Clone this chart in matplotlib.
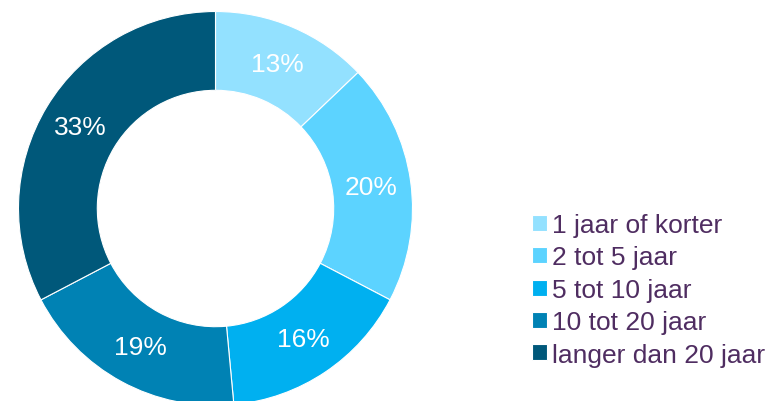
import matplotlib.pyplot as plt

# Duration categories and their shares (%)
categories = ["1 jaar of korter", "2 tot 5 jaar", "5 tot 10 jaar",
              "10 tot 20 jaar", "langer dan 20 jaar"]
shares = [13, 20, 16, 19, 33]
colors = ["#93E1FF", "#5CD3FF", "#00B0F0", "#0082B4", "#00587A"]
text_purple = "#4F2D61"

plt.rcParams['font.family'] = ['Liberation Sans', 'DejaVu Sans']

W, H = 772, 402
fig = plt.figure(figsize=(W / 100, H / 100), dpi=100)

# donut axes: centre ~ (215.5, 209) px, outer radius ~197 px
r_px = 197
cx, cy = 215.5, 209.5
ax = fig.add_axes([(cx - r_px) / W, (H - cy - r_px) / H, 2 * r_px / W, 2 * r_px / H])

wedges, texts, autotexts = ax.pie(
    shares, colors=colors, startangle=90, counterclock=False,
    autopct=lambda p: f"{p:.0f}%", pctdistance=0.8,
    wedgeprops=dict(width=0.4, edgecolor="white", linewidth=0.8),
    textprops=dict(color="white", fontsize=19))
ax.set_xlim(-1, 1)
ax.set_ylim(-1, 1)
ax.set_aspect('equal')
ax.axis('off')

leg = fig.legend(wedges, categories, loc='upper left',
                 bbox_to_anchor=(532 / W, 1 - 214 / H), frameon=False,
                 fontsize=19, handlelength=0.55, handleheight=0.55,
                 handletextpad=0.2, labelspacing=0.32, borderpad=0,
                 borderaxespad=0)
for t in leg.get_texts():
    t.set_color(text_purple)

fig.savefig("out.png", dpi=100)
